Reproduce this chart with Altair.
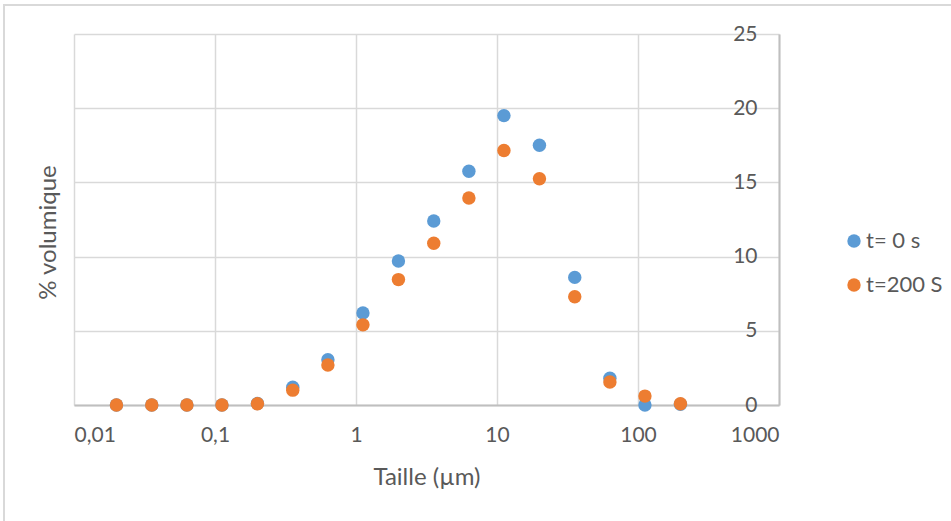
import altair as alt
import pandas as pd

# Particle sizes (µm)
taille = [0.02, 0.0356, 0.0632, 0.112, 0.2, 0.356, 0.632, 1.12, 2.0, 3.56,
          6.32, 11.2, 20.0, 35.6, 63.2, 112.0, 200.0]
# % volumique at t = 0 s
vol_t0 = [0.0, 0.0, 0.0, 0.0, 0.1, 1.2, 3.05, 6.2, 9.7, 12.4,
          15.75, 19.5, 17.5, 8.6, 1.8, 0.0, 0.05]
# % volumique at t = 200 S
vol_t200 = [0.0, 0.0, 0.0, 0.0, 0.08, 1.0, 2.7, 5.4, 8.45, 10.9,
            13.95, 17.15, 15.25, 7.3, 1.55, 0.6, 0.08]

series = ["t= 0 s", "t=200 S"]
colors = ["#5B9BD5", "#ED7D31"]
x_ticks = [0.01, 0.1, 1, 10, 100, 1000]
y_ticks = [0, 5, 10, 15, 20, 25]

rows = []
for s, vals in zip(series, [vol_t0, vol_t200]):
    for i, (x, y) in enumerate(zip(taille, vals)):
        rows.append({"Taille": x, "Volume": y, "Serie": s, "order": i})
df = pd.DataFrame(rows)

FONT = "Lato"
TXT = "#595959"
W, H = 705, 371

points = alt.Chart(df).mark_circle(size=180, opacity=1).encode(
    x=alt.X("Taille:Q",
            scale=alt.Scale(type="log", domain=[0.01, 1000], nice=False),
            axis=alt.Axis(values=x_ticks,
                          labelExpr="replace(toString(datum.value), '.', ',')",
                          ticks=False, labelPadding=19, labelFontSize=21,
                          labelColor=TXT, labelFont=FONT,
                          gridColor="#D9D9D9", gridWidth=1.5,
                          domainColor="#BFBFBF", domainWidth=2,
                          title="Taille (µm)", titleFont=FONT, titleFontSize=24,
                          titleFontWeight="normal", titleColor=TXT,
                          titleY=72, titleBaseline="middle")),
    y=alt.Y("Volume:Q",
            scale=alt.Scale(domain=[0, 25], nice=False),
            axis=alt.Axis(orient="right", values=y_ticks, ticks=False,
                          labelAlign="right", labelPadding=-22,
                          labelBaseline="middle", labelFontSize=21,
                          labelColor=TXT, labelFont=FONT,
                          gridColor="#D9D9D9", gridWidth=1.5,
                          domainColor="#BFBFBF", domainWidth=2,
                          title="% volumique", titleFont=FONT, titleFontSize=24,
                          titleFontWeight="normal", titleColor=TXT,
                          titleAngle=270, titleX=-731, titleY=198,
                          titleAlign="center", titleBaseline="middle")),
    color=alt.Color("Serie:N",
                    scale=alt.Scale(domain=series, range=colors),
                    legend=alt.Legend(title=None, orient="none",
                                      legendX=769, legendY=196,
                                      symbolType="circle", symbolSize=180,
                                      labelFont=FONT, labelFontSize=22,
                                      labelColor=TXT, labelOffset=1,
                                      rowPadding=22, padding=0)),
    order=alt.Order("Serie:N"),
)

frame = alt.Chart(alt.Data(values=[{}])).mark_rect(
    fill=None, stroke="#D9D9D9", strokeWidth=2
).encode(x=alt.value(-70), x2=alt.value(900), y=alt.value(-29), y2=alt.value(520))

chart = alt.layer(frame, points).properties(
    width=W, height=H,
    autosize=alt.AutoSizeParams(type="none"),
    padding={"left": 74, "top": 34, "right": 172, "bottom": 116},
    background="white",
).configure_view(stroke=None)

chart.save("out.html", embed_options={"renderer": "svg", "actions": False})
